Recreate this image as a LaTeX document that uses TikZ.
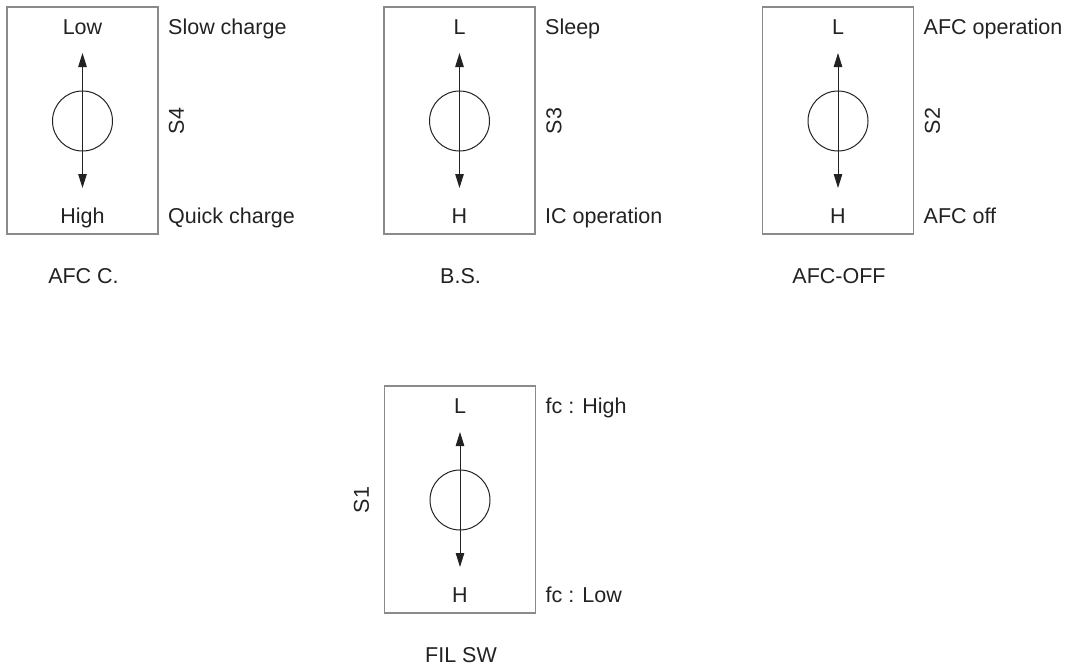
\documentclass[tikz,border=0pt]{standalone}
\usepackage{fontspec}
\setmainfont{Liberation Sans}
\usetikzlibrary{arrows.meta}
\definecolor{ink}{HTML}{222222}
\definecolor{frame}{HTML}{8A8A8A}
\tikzset{
  panel/.style={draw=frame, line width=1.1pt, rectangle, minimum width=151pt, minimum height=227pt, inner sep=0pt},
  knob/.style={draw=ink, line width=1pt, circle, minimum size=60pt, inner sep=0pt},
  dbl/.style={draw=ink, line width=1pt, {Triangle[length=14pt,width=8.5pt]}-{Triangle[length=14pt,width=8.5pt]}},
  lbl/.style={text=ink, font=\fontsize{21.5}{25}\selectfont, inner sep=0pt},
}
\newcommand{\swpanel}[8]{%
  % #1 id, #2 cx, #3 top, #4 top label, #5 bottom label, #6 right top, #7 right bottom, #8 caption
  \node[panel] (b#1) at (#2, #3+113.5) {};
  \node[knob] (c#1) at (#2, #3+114) {};
  \coordinate (t#1) at (#2, #3+46);
  \coordinate (u#1) at (#2, #3+181);
  \draw[dbl] (t#1) -- (u#1);
  \node[lbl, anchor=base] (lt#1) at (#2, #3+27) {#4};
  \node[lbl, anchor=base] (lb#1) at (#2, #3+216) {#5};
  \node[lbl, anchor=base west] (rt#1) at (#2+85.5, #3+27) {#6};
  \node[lbl, anchor=base west] (rb#1) at (#2+85.5, #3+216) {#7};
  \node[lbl, anchor=base] (cap#1) at (#2+1, #3+276) {#8};
}
\begin{document}
\begin{tikzpicture}[x=1pt, y=-1pt]
\useasboundingbox (0,0) rectangle (1070,667);
\swpanel{4}{82.5}{7}{Low}{High}{Slow charge}{Quick charge}{AFC C.}
\node[lbl, rotate=90] (s4) at (176.5, 121) {S4};
\swpanel{3}{459.5}{7}{L}{H}{Sleep}{IC operation}{B.S.}
\node[lbl, rotate=90] (s3) at (554, 121) {S3};
\swpanel{2}{838}{7}{L}{H}{AFC operation}{AFC off}{AFC-OFF}
\node[lbl, rotate=90] (s2) at (932.5, 121) {S2};
\swpanel{1}{460}{386}{L}{H}{fc : High}{fc : Low}{FIL SW}
\node[lbl, rotate=90] (s1) at (361.5, 500) {S1};
\end{tikzpicture}
\end{document}
